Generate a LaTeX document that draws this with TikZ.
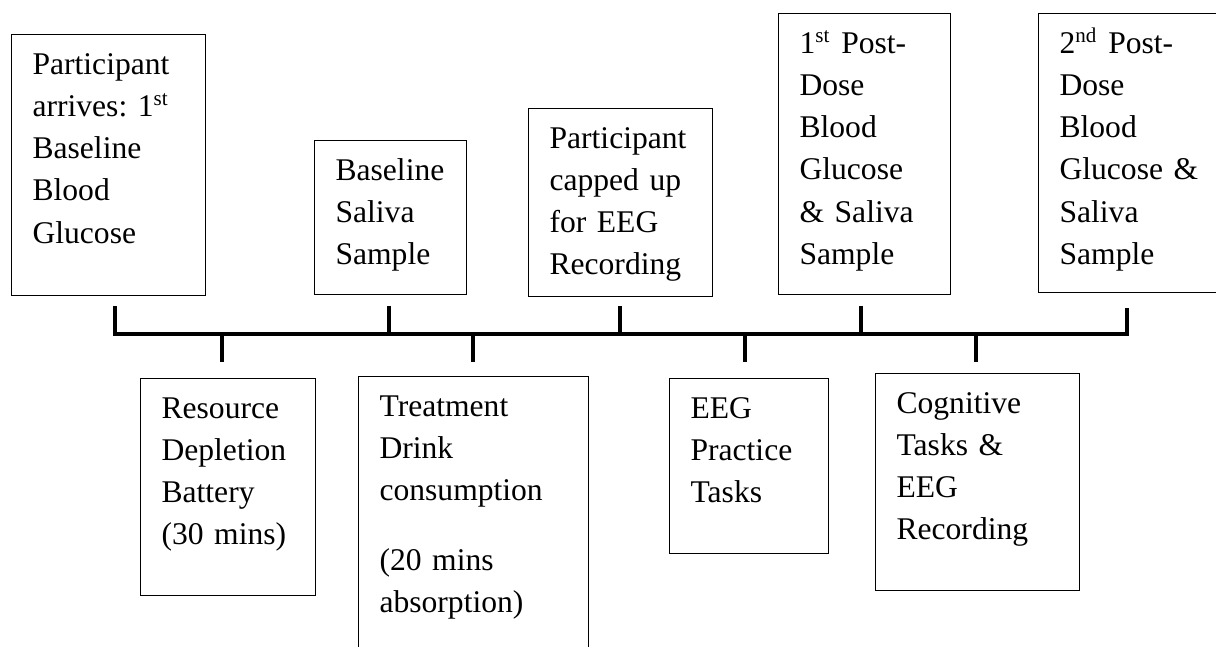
\documentclass[tikz,border=0pt]{standalone}
\usepackage{fontspec}
\setmainfont{Liberation Serif}

\begin{document}
\begin{tikzpicture}[x=0.38pt,y=-0.38pt,
  stage/.style 2 args={draw,line width=0.45pt,anchor=north west,align=left,
    font={\fontsize{12pt}{16pt}\selectfont\hyphenpenalty10000},
    inner xsep=7.98pt,inner ysep=4pt,text height=11.2pt,
    text width=#1*0.38pt-15.96pt,text depth=#2*0.38pt-19.2pt},
  axis/.style={line width=1.7pt,line join=miter}]
  \useasboundingbox (0,0) rectangle (1216,646);
  \clip (0,0) rectangle (1216,646);

  % boxes above the time line
  \node[stage={194}{261}] (arrive) at (11,34) {Participant\\arrives:~1\textsuperscript{st}\\Baseline\\Blood\\Glucose};
  \node[stage={152}{154}] (saliva) at (314,140) {Baseline\\Saliva\\Sample};
  \node[stage={184}{188}] (capped) at (528,108) {Participant\\capped~up\\for~EEG\\Recording};
  \node[stage={172}{281}] (post1) at (778,13) {1\textsuperscript{st}~Post-\\Dose\\Blood\\Glucose\\\&~Saliva\\Sample};
  \node[stage={180}{279}] (post2) at (1038,13) {2\textsuperscript{nd}~Post-\\Dose\\Blood\\Glucose~\&\\Saliva\\Sample};

  % boxes below the time line
  \node[stage={175}{217}] (deplete) at (140,378) {Resource\\Depletion\\Battery\\(30~mins)};
  \node[stage={230}{290}] (drink) at (358,376) {Treatment\\Drink\\consumption\\[10.3pt](20~mins\\absorption)};
  \node[stage={159}{175}] (practice) at (669,378) {EEG\\Practice\\Tasks};
  \node[stage={204}{217}] (tasks) at (875,373) {Cognitive\\Tasks~\&\\EEG\\Recording};

  % time line
  \coordinate (axis west) at (115,334);
  \coordinate (axis east) at (1127,334);
  \draw[axis] (115,306) -- (axis west) -- (axis east) -- (1127,308);
  \foreach \x in {389,620,861}
    \draw[axis] (\x,306) -- (\x,334);
  \foreach \x in {222,473,745,976}
    \draw[axis] (\x,334) -- (\x,362);
\end{tikzpicture}
\end{document}
